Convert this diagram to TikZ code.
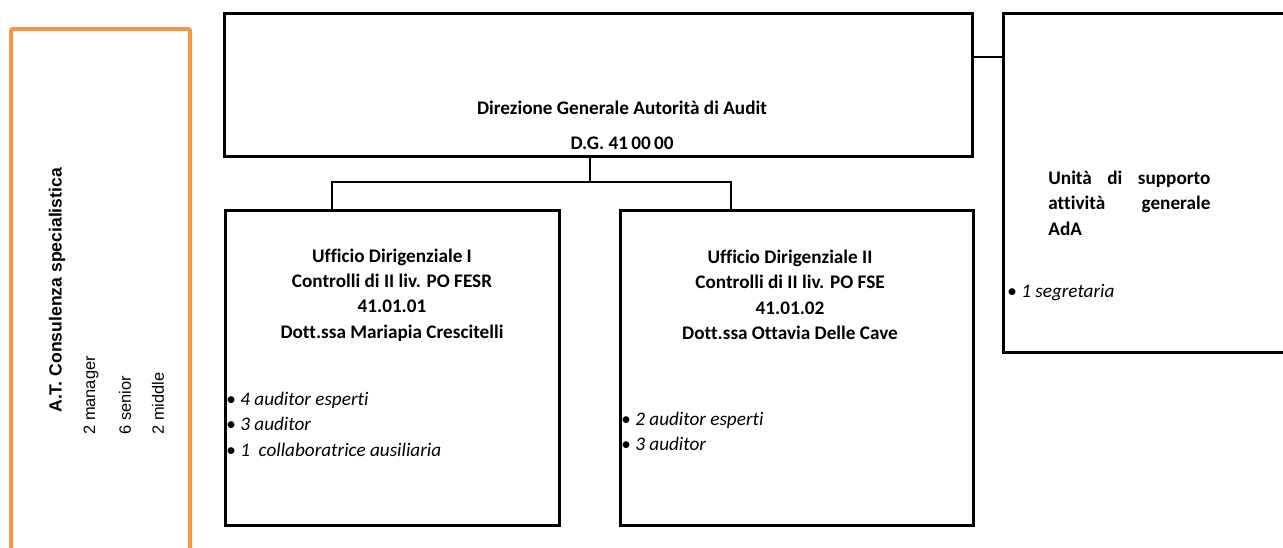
\documentclass[tikz,border=0pt]{standalone}
\usepackage{fontspec}
\setmainfont[Ligatures=NoCommon]{Carlito}
\newfontfamily\arialfont{Liberation Sans}
\usetikzlibrary{positioning, fit, calc}
\definecolor{atorange}{HTML}{F79646}
\tikzset{
  box/.style={draw, line width=1.5pt, inner sep=0pt},
  link/.style={draw, line width=1pt},
  head/.style={font=\fontsize{9.6}{12.7}\selectfont\bfseries, align=center, inner sep=0pt},
  staff/.style={font=\fontsize{9.6}{12.8}\selectfont, align=left, anchor=west, inner sep=0pt},
  tilt/.style={rotate=90, anchor=west, inner sep=0pt, font=\arialfont\fontsize{8.2}{10}\selectfont}
}

\begin{document}
\begin{tikzpicture}[x=0.5pt, y=-0.5pt]
  \useasboundingbox (0,0) rectangle (1283,547);

  \draw[atorange, line width=2pt, rounded corners=1pt] (11,570) -- (11,29) -- (190,29) -- (190,570);
  \node[tilt, font=\arialfont\bfseries\fontsize{8.8}{10}\selectfont] (atc) at (57,413) {A.T. Consulenza specialistica};
  \node[tilt] (man) at (91,435) {2 manager};
  \node[tilt] (sen) at (125,435) {6 senior};
  \node[tilt] (mid) at (158,435) {2 middle};

  \node[box, fit={(224,13) (972,156)}] (dg) {};
  \node[head] (dgname) at (622,125) {Direzione Generale Autorità di Audit\\[4.8pt]D.G. 41\,00\,00};

  \node[box, fit={(225,210) (559,525)}] (uff1) {};
  \node[head] (uff1name) at (392,295) {Ufficio Dirigenziale I\\Controlli di II liv. PO FESR\\41.01.01\\Dott.ssa Mariapia Crescitelli};
  \node[staff] (uff1staff) at (226,424) {• \textit{4 auditor esperti}\\• \textit{3 auditor}\\• \textit{1\ \ collaboratrice ausiliaria}};

  \node[box, fit={(620,210) (973,525)}] (uff2) {};
  \node[head] (uff2name) at (790,295) {Ufficio Dirigenziale II\\Controlli di II liv. PO FSE\\41.01.02\\Dott.ssa Ottavia Delle Cave};
  \node[staff] (uff2staff) at (621,431.5) {• \textit{2 auditor esperti}\\• \textit{3 auditor}};

  \node[box, fit={(1003,13) (1295,352)}] (ada) {};
  \node[head, align=left, anchor=west] (adaname) at (1048,203) {\makebox[81pt][s]{Unità di supporto}\\\makebox[81pt][s]{attività generale}\\AdA};
  \node[staff] (adastaff) at (1007,293) {• \textit{1 segretaria}};

  \coordinate (j0) at (590,182);
  \coordinate (j1) at (332,182);
  \coordinate (j2) at (731,182);
  \coordinate (j3) at (990,57);
  \draw[link] (dg.south -| j0) -- (j0);
  \draw[link] (uff1.north -| j1) -- (j1) -- (j2) -- (uff2.north -| j2);
  \draw[link] (dg.east |- j3) -- (ada.west |- j3);
\end{tikzpicture}
\end{document}
